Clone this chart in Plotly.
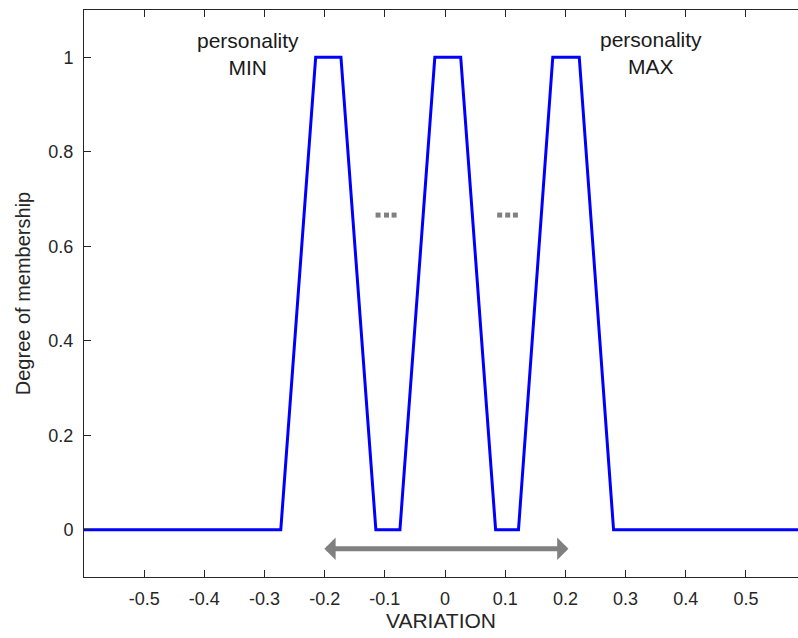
import plotly.graph_objects as go

# Membership function breakpoints (trapezoids)
mf_x = [-0.6, -0.273, -0.215, -0.173, -0.115, -0.075, -0.017, 0.026, 0.084,
        0.122, 0.179, 0.223, 0.280, 0.6]
mf_y = [0, 0, 1, 1, 0, 0, 1, 1, 0, 0, 1, 1, 0, 0]

# ellipsis dots between the functions
dot_x = [-0.1113, -0.0973, -0.0847, 0.0908, 0.1041, 0.1169]
dot_y = [0.666, 0.666, 0.666, 0.666, 0.666, 0.666]

# double arrow span
arrow_start = -0.203
arrow_end = 0.205
arrow_y = -0.040

x_ticks = [-0.5, -0.4, -0.3, -0.2, -0.1, 0, 0.1, 0.2, 0.3, 0.4, 0.5]
x_ticktext = ["-0.5", "-0.4", "-0.3", "-0.2", "-0.1", "0", "0.1", "0.2", "0.3", "0.4", "0.5"]
y_ticks = [0, 0.2, 0.4, 0.6, 0.8, 1]
y_ticktext = ["0", "0.2", "0.4", "0.6", "0.8", "1"]

labels = [("personality<br>MIN", -0.328, 1.006), ("personality<br>MAX", 0.343, 1.008)]

FONT = "Liberation Sans, Arial, sans-serif"
AX = "#262626"

fig = go.Figure()
fig.add_trace(go.Scatter(x=mf_x, y=mf_y, mode="lines",
                         line=dict(color="#0000ff", width=3), showlegend=False,
                         hoverinfo="skip"))
fig.add_trace(go.Scatter(x=dot_x, y=dot_y, mode="markers",
                         marker=dict(symbol="square", size=5, color="#808080"),
                         showlegend=False, hoverinfo="skip"))

fig.add_annotation(x=arrow_end, y=arrow_y, ax=arrow_start, ay=arrow_y,
                   xref="x", yref="y", axref="x", ayref="y", text="",
                   showarrow=True, arrowhead=1, startarrowhead=1,
                   arrowside="end+start", arrowwidth=5, arrowsize=0.75,
                   startarrowsize=0.75, arrowcolor="#808080", standoff=0,
                   startstandoff=0)

for txt, lx, ly in labels:
    fig.add_annotation(x=lx, y=ly, xref="x", yref="y", text=txt, showarrow=False,
                       font=dict(family=FONT, size=21, color="#1a1a1a"),
                       align="center", xanchor="center", yanchor="middle")

fig.update_layout(
    width=798, height=638,
    margin=dict(l=84, r=0, t=10, b=61),
    paper_bgcolor="white", plot_bgcolor="white",
    font=dict(family=FONT, size=18, color=AX),
    xaxis=dict(range=[-0.6, 0.5865], tickvals=x_ticks, ticktext=x_ticktext,
               ticks="inside", ticklen=7, tickcolor=AX, tickwidth=1,
               showline=True, linecolor=AX, linewidth=1, mirror="ticks",
               showgrid=False, zeroline=False,
               title=dict(text="VARIATION", font=dict(size=21, color=AX), standoff=4),
               ticklabelstandoff=5),
    yaxis=dict(range=[-0.1, 1.1], tickvals=y_ticks, ticktext=y_ticktext,
               ticks="inside", ticklen=7, tickcolor=AX, tickwidth=1,
               showline=True, linecolor=AX, linewidth=1, mirror=False,
               showgrid=False, zeroline=False,
               title=dict(text="Degree of membership", font=dict(size=20, color=AX), standoff=12),
               ticklabelstandoff=6),
)

fig.write_html("out.html")
